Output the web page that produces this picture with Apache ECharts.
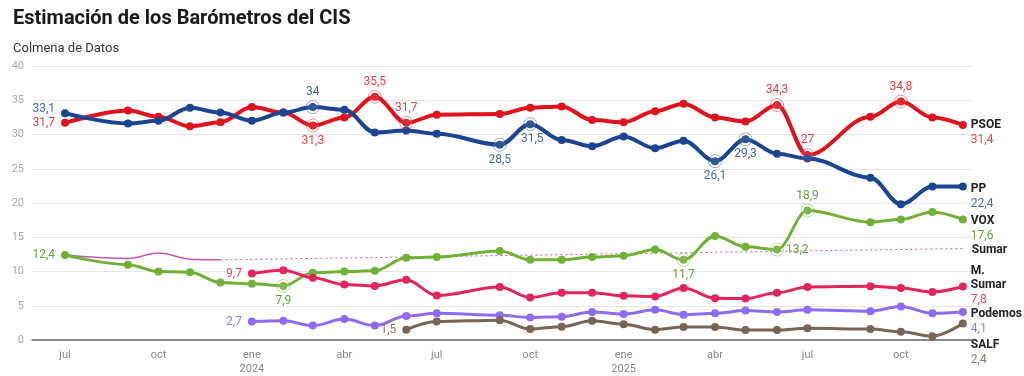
<!DOCTYPE html>
<html>
<head>
<meta charset="utf-8">
<script src="https://cdn.jsdelivr.net/npm/echarts@6/dist/echarts.min.js"></script>
<style>
  html, body { margin: 0; padding: 0; background: #fff; }
  #chart { width: 1024px; height: 376px; }
</style>
</head>
<body>
<div id="chart"></div>
<script>
const months = ['2023-07', '2023-09', '2023-10', '2023-11', '2023-12', '2024-01', '2024-02', '2024-03', '2024-04',
  '2024-05', '2024-06', '2024-07', '2024-09', '2024-10', '2024-11', '2024-12', '2025-01', '2025-02', '2025-03',
  '2025-04', '2025-05', '2025-06', '2025-07', '2025-09', '2025-10', '2025-11', '2025-12'];

const pp = [33.1, 31.6, 32.0, 33.9, 33.2, 32.0, 33.2, 34, 33.6, 30.3, 30.6, 30.1, 28.5, 31.5, 29.2, 28.3, 29.7,
  28.0, 29.1, 26.1, 29.3, 27.2, 26.5, 23.7, 19.8, 22.4, 22.4];
const psoe = [31.7, 33.5, 32.6, 31.2, 31.8, 34.0, 33.2, 31.3, 32.5, 35.5, 31.7, 32.9, 33.0, 33.9, 34.1, 32.1, 31.8,
  33.4, 34.5, 32.5, 31.9, 34.3, 27, 32.6, 34.8, 32.5, 31.4];
const vox = [12.4, 11.0, 10.0, 9.9, 8.4, 8.2, 7.9, 9.8, 10.0, 10.1, 12.0, 12.1, 13.0, 11.7, 11.7, 12.1, 12.3, 13.2,
  11.7, 15.2, 13.6, 13.2, 18.9, 17.2, 17.6, 18.7, 17.6];
const sumar = [12.4, 11.9, 12.7, 11.8, 11.7];
const sumarTrendMonths = ['2023-12', '2025-12'];
const sumarTrend = [11.7, 13.35];
const mSumar = [null, null, null, null, null, 9.7, 10.2, 9.1, 8.1, 7.9, 8.8, 6.5, 7.75, 6.2, 6.9, 6.9, 6.45, 6.35,
  7.6, 6.1, 6.05, 6.9, 7.75, 7.85, 7.6, 7.0, 7.8];
const podemos = [null, null, null, null, null, 2.7, 2.8, 2.1, 3.05, 2.1, 3.5, 3.9, 3.6, 3.3, 3.4, 4.1, 3.8, 4.4,
  3.7, 3.9, 4.3, 4.1, 4.4, 4.2, 4.9, 3.9, 4.1];
const salf = [null, null, null, null, null, null, null, null, null, null, 1.5, 2.7, 2.9, 1.6, 1.95, 2.8, 2.3, 1.5,
  1.9, 1.9, 1.45, 1.45, 1.7, 1.6, 1.2, 0.55, 2.4];

const tickMonths = ['2023-07', '2023-10', '2024-01', '2024-04', '2024-07', '2024-10', '2025-01', '2025-04',
  '2025-07', '2025-10'];
const monthNames = ['ene', 'feb', 'mar', 'abr', 'may', 'jun', 'jul', 'ago', 'sep', 'oct', 'nov', 'dic'];

const FONT = 'Roboto';

function ts(m) {
  const [y, mo] = m.split('-').map(Number);
  return Date.UTC(y, mo - 1, 1);
}
const fmt = (v) => String(v).replace('.', ',');

// which points carry a label (index -> where to put it), and whether they get a ring
const parties = [
  { name: 'PSOE', vals: psoe, color: '#e1121c', text: '#e2434b', width: 4,
    notes: { 0: ['left'], 7: ['bottom', true], 9: ['top', true], 10: ['top', true], 21: ['top', true],
      22: ['top', true], 24: ['top', true] },
    end: [0, 8] },
  { name: 'PP', vals: pp, color: '#1b4592', text: '#4a6aa8', width: 4,
    notes: { 0: ['left', false, [0, -4]], 7: ['top', true], 12: ['bottom', true], 13: ['bottom', true, [2, 0]],
      19: ['bottom', true], 20: ['bottom', true] },
    end: [0, 10] },
  { name: 'VOX', vals: vox, color: '#70b136', text: '#6a9f3b', width: 3,
    notes: { 0: ['left'], 6: ['bottom', true], 18: ['bottom', true], 21: ['right', true], 22: ['top', true] },
    end: [0, 10] },
  { name: 'M.\nSumar', vals: mSumar, color: '#e6245c', text: '#e8457a', width: 3,
    notes: { 5: ['left'] }, end: [0, -1] },
  { name: 'Podemos', vals: podemos, color: '#8e6cf2', text: '#8a7ef0', width: 3,
    notes: { 5: ['left'] }, end: [0, 10] },
  { name: 'SALF', vals: salf, color: '#7a6453', text: '#8a7b70', width: 3,
    notes: { 10: ['left'] }, end: [0, 29] }
];

const series = [];

series.push({
  type: 'line', name: 'Sumar', data: sumar.map((v, i) => [ts(months[i]), v]),
  smooth: 0.4, symbol: 'none', lineStyle: { width: 1.5, color: '#c754b6' }, z: 1
});
series.push({
  type: 'line', name: 'Sumar tendencia', data: sumarTrend.map((v, i) => [ts(sumarTrendMonths[i]), v]),
  symbol: 'none', lineStyle: { width: 1, type: [2, 3], color: '#c754b6' }, z: 1,
  endLabel: {
    show: true, distance: 9, offset: [0, 1], formatter: 'Sumar',
    fontFamily: FONT, fontSize: 12, fontWeight: 'bold', color: '#222'
  }
});

parties.forEach((p) => {
  const data = p.vals.map((v, i) => {
    if (v === null) return [ts(months[i]), null];
    const note = p.notes[i];
    const item = { value: [ts(months[i]), v] };
    if (note) {
      item.label = {
        show: true, position: note[0], distance: note[0] === 'left' ? 6 : 5,
        offset: note[2] || [0, 0], formatter: fmt(v),
        fontFamily: FONT, fontSize: 12, color: p.text
      };
    }
    return item;
  });
  const last = p.vals[p.vals.length - 1];
  series.push({
    type: 'line', name: p.name, data: data, smooth: 0.35, smoothMonotone: 'x',
    symbol: 'circle', symbolSize: 8, showSymbol: true,
    itemStyle: { color: p.color }, lineStyle: { width: p.width, color: p.color },
    z: 3,
    endLabel: {
      show: true, distance: 8, offset: p.end,
      formatter: '{n|' + p.name.replace('\n', '}\n{n|') + '}\n{v|' + fmt(last) + '}',
      rich: {
        n: { fontFamily: FONT, fontSize: 12, fontWeight: 'bold', color: '#222', lineHeight: 14 },
        v: { fontFamily: FONT, fontSize: 12, color: p.text, lineHeight: 16 }
      }
    }
  });
  const rings = Object.keys(p.notes).filter((k) => p.notes[k][1]).map((k) => [ts(months[k]), p.vals[k]]);
  if (rings.length) {
    series.push({
      type: 'scatter', data: rings, symbol: 'circle', symbolSize: 13, silent: true, z: 4,
      itemStyle: { color: 'rgba(255,255,255,0.2)', borderColor: p.color, borderWidth: 1, opacity: 0.45 }
    });
  }
});

const chart = echarts.init(document.getElementById('chart'), null, { renderer: 'canvas' });
chart.setOption({
  animation: false,
  title: [
    { text: 'Estimación de los Barómetros del CIS', left: 8, top: 4,
      textStyle: { fontFamily: FONT, fontSize: 20, fontWeight: 'bold', color: '#1a1a1a' } },
    { text: 'Colmena de Datos', left: 8, top: 37,
      textStyle: { fontFamily: FONT, fontSize: 13, fontWeight: 'normal', color: '#333' } }
  ],
  grid: { left: 32, right: 52, top: 66, bottom: 35 },
  xAxis: {
    type: 'value',
    min: Date.UTC(2023, 4, 29, 12),
    max: Date.UTC(2025, 11, 10),
    axisLine: { show: true, onZero: true, lineStyle: { color: '#666', width: 1.5 } },
    axisTick: { show: false },
    splitLine: { show: false },
    axisLabel: {
      customValues: tickMonths.map(ts),
      margin: 8, color: '#888', fontFamily: FONT, fontSize: 11, lineHeight: 14,
      formatter: (v) => {
        const d = new Date(v);
        const m = d.getUTCMonth();
        return m === 0 ? monthNames[m] + '\n' + d.getUTCFullYear() : monthNames[m];
      }
    }
  },
  yAxis: {
    type: 'value', min: 0, max: 40, interval: 5,
    axisLine: { show: false }, axisTick: { show: false },
    axisLabel: { color: '#aaa', fontFamily: FONT, fontSize: 11, margin: 8 },
    splitLine: { lineStyle: { color: '#e6e6e6', width: 1 } }
  },
  series: series
});
</script>
</body>
</html>
